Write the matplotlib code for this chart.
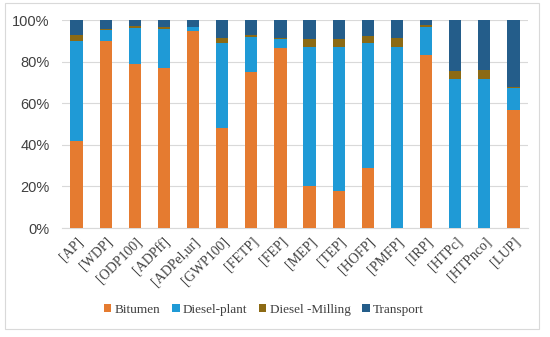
import matplotlib.pyplot as plt
import numpy as np
from matplotlib.patches import Rectangle

categories = ["[AP]", "[WDP]", "[ODP100]", "[ADPff]", "[ADPel,ur]", "[GWP100]", "[FETP]", "[FEP]",
              "[MEP]", "[TEP]", "[HOFP]", "[PMFP]", "[IRP]", "[HTPc]", "[HTPnco]", "[LUP]"]
bitumen = [42, 90, 79, 77, 94.5, 48, 75, 86.5, 20, 18, 29, 0, 83, 0, 0, 56.5]
diesel_plant = [48, 5, 17, 18.5, 2, 41, 17, 4.5, 67, 69, 60, 87, 13.5, 71.5, 71.5, 11]
diesel_milling = [3, 0.5, 1, 1, 0, 2.5, 1, 0.5, 4, 4, 3.5, 4.5, 1, 4, 4.5, 0.5]
transport = [7, 4.5, 3, 3.5, 3.5, 8.5, 7, 8.5, 9, 9, 7.5, 8.5, 2.5, 24.5, 24, 32]
series_names = ["Bitumen", "Diesel-plant", "Diesel -Milling", "Transport"]
colors = ["#E57B30", "#1F9AD6", "#8C6A14", "#245D8A"]

fig = plt.figure(figsize=(5.5, 3.37), dpi=100)
ax = fig.add_axes([62/550, 1-228/337, (528-62)/550, (228-20)/337])

x = np.arange(len(categories))
bottom = np.zeros(len(categories))
for vals, name, c in zip([bitumen, diesel_plant, diesel_milling, transport], series_names, colors):
    v = np.array(vals, dtype=float)
    ax.bar(x, v, width=0.42, bottom=bottom, color=c, label=name, zorder=3)
    bottom += v

ax.set_xlim(-0.5, len(categories) - 0.5)
ax.set_ylim(0, 100)
ax.set_yticks([0, 20, 40, 60, 80, 100])
ax.set_yticklabels([f"{t}%" for t in [0, 20, 40, 60, 80, 100]], fontsize=10.5,
                   family="Liberation Sans", color="#404040")
ax.grid(axis="y", color="#D9D9D9", linewidth=0.8, zorder=0)
ax.set_xticks(x)
ax.set_xticklabels(categories, rotation=45, ha="right", rotation_mode="anchor",
                   fontsize=10, family="Liberation Serif", color="#404040")
for s in ["top", "right", "left"]:
    ax.spines[s].set_visible(False)
ax.spines["bottom"].set_color("#D9D9D9")
ax.tick_params(axis="both", length=0)
ax.tick_params(axis="y", pad=9)
ax.tick_params(axis="x", pad=5)

leg = fig.legend(loc="center", bbox_to_anchor=(264/550, 1-310/337), ncol=4, frameon=False,
                 prop={"family": "Liberation Serif", "size": 9.5}, handlelength=0.55,
                 handleheight=0.55, handletextpad=0.25, columnspacing=0.9)
for t in leg.get_texts():
    t.set_color("#404040")

fig.patches.append(Rectangle((5/550, 1-329/337), 534/550, 326/337, transform=fig.transFigure,
                             fill=False, edgecolor="#D9D9D9", linewidth=0.8))

fig.savefig("out.png", dpi=100)
